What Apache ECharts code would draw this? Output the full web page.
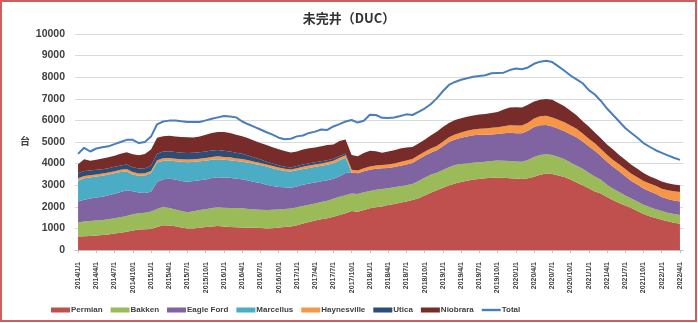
<!DOCTYPE html>
<html>
<head>
<meta charset="utf-8">
<script src="https://cdn.jsdelivr.net/npm/echarts@6/dist/echarts.min.js"></script>
<style>
  html, body { margin: 0; padding: 0; background: #fff; }
  #wrap { position: relative; width: 698px; height: 323px; }
  #chart { width: 698px; height: 323px; }
  #frame { position: absolute; left: 0; top: 0; width: 697px; height: 322px;
           box-sizing: border-box; border: 2px solid #cd5f5b; pointer-events: none; }
</style>
</head>
<body>
<div id="wrap"><div id="chart"></div><div id="frame"></div></div>
<script>
// Monthly DUC counts by basin, 2014/1 .. 2022/4
const months = [
  '2014/1/1','2014/2/1','2014/3/1','2014/4/1','2014/5/1','2014/6/1','2014/7/1','2014/8/1','2014/9/1','2014/10/1','2014/11/1','2014/12/1',
  '2015/1/1','2015/2/1','2015/3/1','2015/4/1','2015/5/1','2015/6/1','2015/7/1','2015/8/1','2015/9/1','2015/10/1','2015/11/1','2015/12/1',
  '2016/1/1','2016/2/1','2016/3/1','2016/4/1','2016/5/1','2016/6/1','2016/7/1','2016/8/1','2016/9/1','2016/10/1','2016/11/1','2016/12/1',
  '2017/1/1','2017/2/1','2017/3/1','2017/4/1','2017/5/1','2017/6/1','2017/7/1','2017/8/1','2017/9/1','2017/10/1','2017/11/1','2017/12/1',
  '2018/1/1','2018/2/1','2018/3/1','2018/4/1','2018/5/1','2018/6/1','2018/7/1','2018/8/1','2018/9/1','2018/10/1','2018/11/1','2018/12/1',
  '2019/1/1','2019/2/1','2019/3/1','2019/4/1','2019/5/1','2019/6/1','2019/7/1','2019/8/1','2019/9/1','2019/10/1','2019/11/1','2019/12/1',
  '2020/1/1','2020/2/1','2020/3/1','2020/4/1','2020/5/1','2020/6/1','2020/7/1','2020/8/1','2020/9/1','2020/10/1','2020/11/1','2020/12/1',
  '2021/1/1','2021/2/1','2021/3/1','2021/4/1','2021/5/1','2021/6/1','2021/7/1','2021/8/1','2021/9/1','2021/10/1','2021/11/1','2021/12/1',
  '2022/1/1','2022/2/1','2022/3/1','2022/4/1'
];

const permian = [
  620,640,650,670,690,720,760,800,850,900,
  950,960,970,1060,1150,1130,1100,1040,990,1000,
  1030,1060,1090,1110,1090,1060,1050,1040,1030,1030,
  1020,1000,1010,1040,1060,1090,1150,1230,1300,1360,
  1420,1470,1540,1620,1700,1800,1770,1850,1930,1980,
  2010,2080,2130,2190,2250,2310,2400,2520,2650,2770,
  2880,2990,3080,3150,3210,3260,3290,3320,3340,3350,
  3340,3320,3310,3290,3320,3390,3480,3540,3520,3450,
  3380,3260,3130,3000,2860,2710,2610,2450,2300,2180,
  2060,1950,1800,1670,1560,1480,1400,1330,1260,1210
];
const bakken = [
  650,680,690,690,700,700,710,720,720,750,
  750,770,810,840,850,810,780,760,760,790,
  820,830,860,870,870,890,890,890,870,850,
  840,850,850,840,840,830,830,810,790,790,
  800,810,830,840,830,820,820,820,800,810,
  810,780,770,760,750,750,800,830,830,810,
  820,840,850,830,800,780,770,770,780,790,
  790,800,790,800,850,910,920,890,880,850,
  820,790,770,760,720,690,640,570,530,500,
  460,430,450,430,430,410,400,400,410,410
];
const eagleFord = [
  970,1010,1040,1070,1080,1110,1130,1160,1200,1070,
  960,910,920,1250,1280,1360,1380,1400,1415,1400,
  1380,1370,1380,1385,1390,1390,1360,1350,1320,1270,
  1240,1170,1100,1040,1000,960,960,980,990,980,
  960,950,930,960,1030,970,960,980,990,970,
  960,940,940,950,960,970,1000,1010,1020,1040,
  1100,1170,1190,1220,1250,1270,1270,1250,1230,1225,
  1270,1310,1310,1310,1350,1400,1380,1360,1320,1310,
  1300,1310,1320,1260,1220,1200,1100,1060,1020,970,
  900,820,780,750,730,710,650,630,620,620
];
const marcellus = [
  970,990,980,970,970,960,950,930,870,780,
  780,810,860,900,850,840,850,880,900,890,
  880,870,850,840,830,820,820,810,820,830,
  830,840,830,800,760,750,750,730,720,720,
  720,720,720,730,710,0,0,0,0,0,
  0,0,0,0,0,0,0,0,0,0,
  0,0,0,0,0,0,0,0,0,0,
  0,0,0,0,0,0,0,0,0,0,
  0,0,0,0,0,0,0,0,0,0,
  0,0,0,0,0,0,0,0,0,0
];
const haynesville = [
  110,110,100,100,100,100,100,100,110,110,
  100,100,100,110,120,120,120,120,120,120,
  120,130,130,130,130,130,120,120,110,110,
  100,100,100,100,100,100,100,100,110,110,
  110,110,110,120,120,120,130,140,140,150,
  150,160,160,170,180,180,190,190,200,200,
  210,220,230,240,260,270,280,290,310,320,
  330,340,350,360,370,390,410,420,420,420,
  410,400,390,370,350,340,330,330,320,320,
  330,330,340,350,360,370,390,410,430,450
];
const utica = [
  230,230,220,210,200,200,200,200,210,220,
  230,230,250,300,310,310,310,300,300,300,
  300,300,300,300,280,270,260,250,220,190,
  160,130,110,100,90,90,100,110,110,100,
  100,90,90,80,80,0,0,0,0,0,
  0,0,0,0,0,0,0,0,0,0,
  0,0,0,0,0,0,0,0,0,0,
  0,0,0,0,0,0,0,0,0,0,
  0,0,0,0,0,0,0,0,0,0,
  0,0,0,0,0,0,0,0,0,0
];
const niobrara = [
  420,540,450,470,500,500,510,550,560,600,
  620,670,740,740,710,720,720,730,730,710,
  720,780,810,830,870,860,830,810,800,780,
  760,770,760,740,730,690,670,690,690,680,
  690,710,670,700,650,690,660,700,730,660,
  570,600,620,630,600,560,540,550,600,660,
  690,660,670,660,650,650,660,670,680,700,
  770,830,850,840,830,790,770,780,820,770,
  740,690,630,570,570,500,490,470,480,430,
  430,420,390,360,340,330,330,320,310,310
];
const total = [
  4450,4730,4560,4700,4760,4800,4900,5000,5100,5100,
  4950,5000,5250,5820,5950,5990,6000,5960,5930,5930,
  5930,6000,6080,6140,6200,6180,6140,5950,5820,5700,
  5580,5450,5340,5200,5130,5150,5260,5300,5420,5480,
  5580,5560,5720,5830,5950,6020,5900,5980,6260,6250,
  6120,6110,6130,6200,6280,6250,6400,6550,6750,7020,
  7350,7640,7780,7880,7950,8020,8060,8090,8180,8200,
  8210,8330,8400,8370,8450,8620,8720,8760,8700,8500,
  8300,8080,7900,7720,7400,7200,6900,6550,6250,5950,
  5650,5420,5200,4950,4780,4620,4500,4380,4270,4170
];

const yTicks = { min: 0, max: 10000, step: 1000 };

const basins = [
  { name: 'Permian',     data: permian,     color: '#c0504d' },
  { name: 'Bakken',      data: bakken,      color: '#9bbb59' },
  { name: 'Eagle Ford',  data: eagleFord,   color: '#8064a2' },
  { name: 'Marcellus',   data: marcellus,   color: '#4bacc6' },
  { name: 'Haynesville', data: haynesville, color: '#f79646' },
  { name: 'Utica',       data: utica,       color: '#2c4d75' },
  { name: 'Niobrara',    data: niobrara,    color: '#772c2a' }
];

const font = '"Liberation Sans", "Noto Sans CJK SC", sans-serif';

const series = basins.map(b => ({
  name: b.name,
  type: 'line',
  stack: 'duc',
  data: b.data,
  symbol: 'none',
  lineStyle: { width: 0 },
  itemStyle: { color: b.color },
  areaStyle: { color: b.color, opacity: 1 },
  emphasis: { disabled: true }
}));
series.push({
  name: 'Total',
  type: 'line',
  data: total,
  symbol: 'none',
  z: 5,
  lineStyle: { width: 2, color: '#4a7ebb' },
  itemStyle: { color: '#4a7ebb' },
  emphasis: { disabled: true }
});

const chart = echarts.init(document.getElementById('chart'), null, { renderer: 'canvas' });
chart.setOption({
  animation: false,
  textStyle: { fontFamily: font },
  title: {
    text: '未完井（DUC）',
    left: 'center',
    top: 7,
    textStyle: { fontSize: 13, fontWeight: 'bold', color: '#333', fontFamily: '"Noto Sans CJK SC", sans-serif' }
  },
  legend: {
    left: 46,
    top: 301,
    itemWidth: 19,
    itemHeight: 5,
    itemGap: 8,
    textStyle: { fontSize: 8, fontWeight: 'bold', color: '#404040', padding: [0, 0, 0, -4] },
    data: basins.map(b => ({ name: b.name, icon: 'rect' }))
      .concat([{ name: 'Total', icon: 'path://M0 0H19V2.4H0Z' }])
  },
  grid: { left: 75, right: 15, top: 34, bottom: 73 },
  xAxis: {
    type: 'category',
    data: months,
    boundaryGap: true,
    axisLine: { lineStyle: { color: '#bfbfbf' } },
    axisTick: { show: true, interval: 2, alignWithLabel: true, length: 3, lineStyle: { color: '#bfbfbf' } },
    axisLabel: { interval: 2, rotate: 90, margin: 12, fontSize: 7, fontWeight: 'bold', color: '#404040' }
  },
  yAxis: {
    type: 'value',
    min: yTicks.min,
    max: yTicks.max,
    interval: yTicks.step,
    name: '台',
    nameLocation: 'middle',
    nameRotate: 0,
    nameGap: 42,
    nameTextStyle: { fontSize: 10, fontWeight: 'bold', color: '#404040' },
    axisLine: { show: false },
    axisTick: { show: false },
    axisLabel: { margin: 10, fontSize: 10.5, fontWeight: 'bold', color: '#404040', formatter: v => String(v) },
    splitLine: { lineStyle: { color: '#d9d9d9', width: 1 } }
  },
  series: series
});
</script>
</body>
</html>
